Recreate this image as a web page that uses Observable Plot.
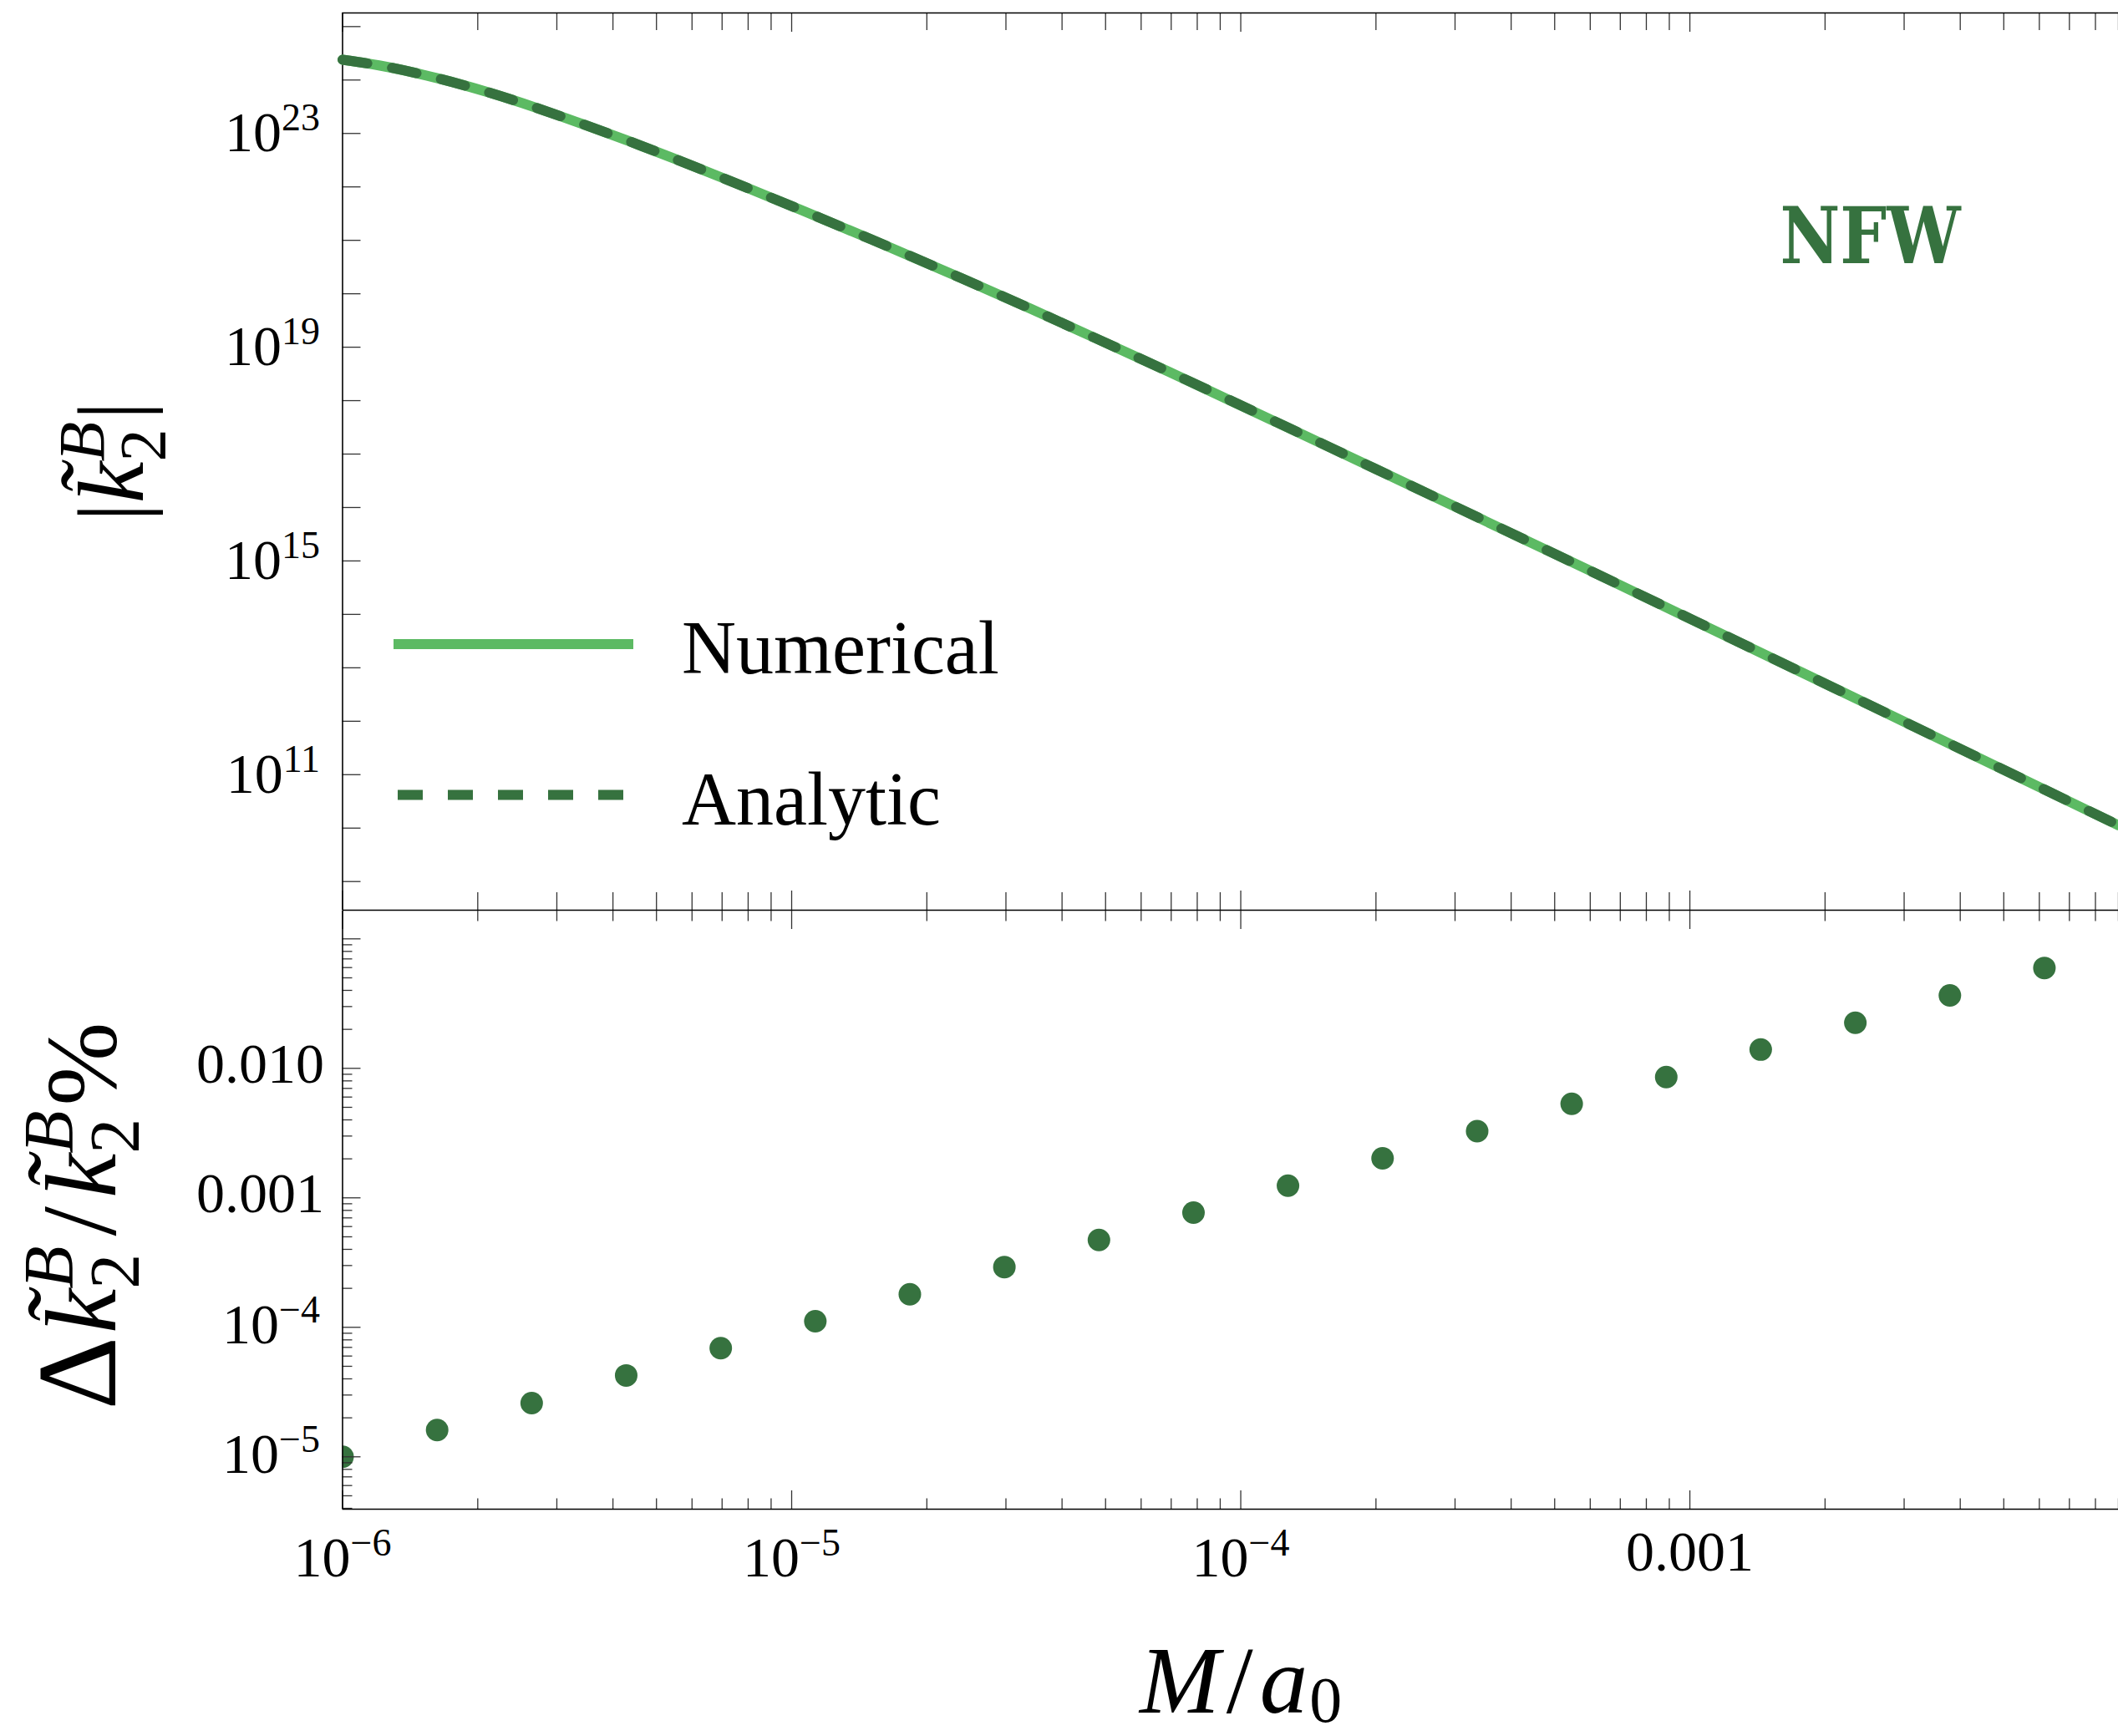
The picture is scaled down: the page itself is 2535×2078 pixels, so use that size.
<!DOCTYPE html>
<html>
<head>
<meta charset="utf-8">
<script src="https://cdn.jsdelivr.net/npm/d3@7"></script>
<script src="https://cdn.jsdelivr.net/npm/@observablehq/plot@0.6"></script>
<style>
  html, body { margin: 0; padding: 0; background: #ffffff; overflow: hidden; }
  #chart { position: relative; width: 2535px; height: 2078px; background: #ffffff; }
  #chart > svg { display: block; }
  #legend { position: absolute; left: 0; top: 0; pointer-events: none; }
</style>
</head>
<body>
<div id="chart"></div>
<script>
// ---------------- data ----------------
// upper panel: |k2^B| versus M/a0 (numerical and analytic coincide)
const curveMass  = [1.0e-6, 1.205e-6, 1.641e-6, 2.104e-6, 2.685e-6, 3.428e-6, 4.355e-6, 5.495e-6, 6.966e-6, 8.185e-6,
                    1.057e-5, 1.500e-5, 2.388e-5, 3.404e-5, 4.797e-5, 6.966e-5, 1.995e-4, 5.943e-4, 2.512e-3, 9.0e-3];
const kNumerical = [2.40e24, 1.88e24, 1.06e24, 5.93e23, 3.07e23, 1.49e23, 7.11e22, 3.34e22, 1.51e22, 8.73e21,
                    3.61e21, 1.05e21, 1.96e20, 5.24e19, 1.42e19, 3.37e18, 5.28e16, 6.79e14, 2.01e12, 1.13e10];
const kAnalytic  = [2.40e24, 1.88e24, 1.06e24, 5.93e23, 3.07e23, 1.49e23, 7.11e22, 3.34e22, 1.51e22, 8.73e21,
                    3.61e21, 1.05e21, 1.96e20, 5.24e19, 1.42e19, 3.37e18, 5.28e16, 6.79e14, 2.01e12, 1.13e10];
// lower panel: relative difference in percent
const dotMass  = [1.0e-6, 1.624e-6, 2.637e-6, 4.281e-6, 6.952e-6, 1.129e-5, 1.833e-5, 2.976e-5, 4.833e-5, 7.848e-5,
                  1.274e-4, 2.069e-4, 3.360e-4, 5.456e-4, 8.859e-4, 1.438e-3, 2.336e-3, 3.793e-3, 6.158e-3];
const relError = [1.0e-5, 1.61e-5, 2.60e-5, 4.25e-5, 6.90e-5, 1.114e-4, 1.80e-4, 2.92e-4, 4.73e-4, 7.69e-4,
                  1.242e-3, 2.02e-3, 3.27e-3, 5.32e-3, 8.57e-3, 1.396e-2, 2.25e-2, 3.66e-2, 5.96e-2];

// tick labels
const xLabelValues    = [1e-6, 1e-5, 1e-4, 1e-3];
const xLabelTexts     = ["10^\u22126", "10^\u22125", "10^\u22124", "0.001"];
const topYLabelValues = [1e11, 1e15, 1e19, 1e23];
const topYLabelTexts  = ["10^11", "10^15", "10^19", "10^23"];
const botYLabelValues = [1e-5, 1e-4, 1e-3, 1e-2];
const botYLabelTexts  = ["10^\u22125", "10^\u22124", "0.001", "0.010"];

const seriesNames = ["Numerical", "Analytic"];
const panelLabel = "NFW";

// ---------------- styling / layout ----------------
const LIGHT = "#5cba63", DARK = "#36723f";
const W = 2535, ML = 409.5;
const TOP_H = 1090, TOP_MT = 15, TOP_MB = 1;
const BOT_H = 988, BOT_MT = 0, BOT_MB = 272;
const frameW = W - ML;
const topFrameH = TOP_H - TOP_MT - TOP_MB;
const botFrameH = BOT_H - BOT_MT - BOT_MB;
const FONT = "'Liberation Serif', 'Times New Roman', serif";
const xDomain = [1e-6, 9.0e-3];
const topYDomain = [2.91e8, 1.80e25];
const botYDomain = [3.94e-6, 0.164];

// tick positions
const xMajor = xLabelValues;
const xMinor = [];
for (const d of xMajor) for (let k = 2; k <= 9; k++) xMinor.push(+(k * d).toPrecision(3));
const topYTicks = [];
for (let e = 9; e <= 25; e++) topYTicks.push(+("1e" + e));
const botYMajor = [1e-5, 1e-4, 1e-3, 1e-2, 1e-1];
const botYMinor = [];
for (let e = -6; e <= -2; e++) for (let k = 2; k <= 9; k++) {
  const v = +(k * Math.pow(10, e)).toPrecision(3);
  if (v >= botYDomain[0] && v <= botYDomain[1]) botYMinor.push(v);
}

const TICK = {stroke: "#333", strokeWidth: 1.3};
const AXIS = {stroke: "#000", strokeWidth: 1.6};
const leftTicks   = (vals, len, fh) => Plot.tickY(vals, {y: d => d, insetRight: frameW - len, ...TICK});
const topTicks    = (vals, len, fh) => Plot.tickX(vals, {x: d => d, insetBottom: fh - len, ...TICK});
const bottomTicks = (vals, len, fh) => Plot.tickX(vals, {x: d => d, insetTop: fh - len, ...TICK});

const curveRows = curveMass.map((m, i) => ({m, num: kNumerical[i], ana: kAnalytic[i]}));
const dotRows = dotMass.map((m, i) => ({m, e: relError[i]}));
const rows = (vals, texts) => vals.map((v, i) => ({v, t: texts[i]}));
const isPow = r => r.t.includes("^");

const baseStyle = {fontFamily: FONT, fontSize: "68px", background: "transparent", color: "#000", overflow: "visible"};

// ---------------- upper panel ----------------
const topPlot = Plot.plot({
  width: W, height: TOP_H,
  marginLeft: ML, marginRight: 0, marginTop: TOP_MT, marginBottom: TOP_MB,
  x: {type: "log", domain: xDomain, axis: null},
  y: {type: "log", domain: topYDomain, axis: null},
  style: baseStyle,
  marks: [
    leftTicks(topYTicks, 22, topFrameH),
    topTicks(xMinor, 21, topFrameH), topTicks(xMajor, 23, topFrameH),
    bottomTicks(xMinor, 21, topFrameH), bottomTicks(xMajor, 23, topFrameH),
    Plot.ruleX([xDomain[0]], AXIS),
    Plot.ruleY([topYDomain[0], topYDomain[1]], AXIS),
    Plot.line(curveRows, {x: "m", y: "num", stroke: LIGHT, strokeWidth: 12, curve: "monotone-x"}),
    Plot.line(curveRows, {x: "m", y: "ana", stroke: DARK, strokeWidth: 12, strokeDasharray: "30,30", curve: "monotone-x"}),
    Plot.text(rows(topYLabelValues, topYLabelTexts), {y: "v", text: "t", frameAnchor: "left", textAnchor: "end",
      lineAnchor: "bottom", dx: -27, dy: 21.7, fontSize: 68, fill: "#000"}),
    Plot.text(["YTOP"], {frameAnchor: "left", rotate: -90, textAnchor: "middle", lineAnchor: "bottom",
      dx: -239.5, dy: 0, fontSize: 112, fill: "#000"}),
    Plot.text([panelLabel], {frameAnchor: "top-right", textAnchor: "middle", lineAnchor: "bottom",
      dx: -297, dy: 299, fontSize: 94, fontWeight: "bold", fontFamily: "'DejaVu Serif', serif", fill: DARK})
  ]
});

// ---------------- lower panel ----------------
const xr = rows(xLabelValues, xLabelTexts);
const byr = rows(botYLabelValues, botYLabelTexts);
const botPlot = Plot.plot({
  width: W, height: BOT_H,
  marginLeft: ML, marginRight: 0, marginTop: BOT_MT, marginBottom: BOT_MB,
  x: {type: "log", domain: xDomain, axis: null},
  y: {type: "log", domain: botYDomain, axis: null},
  style: baseStyle,
  marks: [
    Plot.dot(dotRows, {x: "m", y: "e", r: 13.5, fill: DARK, stroke: "none", clip: true}),
    leftTicks(botYMinor, 12, botFrameH), leftTicks(botYMajor, 22, botFrameH),
    topTicks(xMinor, 12.5, botFrameH), topTicks(xMajor, 22, botFrameH),
    bottomTicks(xMinor, 12.5, botFrameH), bottomTicks(xMajor, 22, botFrameH),
    Plot.ruleX([xDomain[0]], AXIS),
    Plot.ruleY([botYDomain[0]], AXIS),
    Plot.text(byr.filter(isPow), {y: "v", text: "t", frameAnchor: "left", textAnchor: "end",
      lineAnchor: "bottom", dx: -27, dy: 19.5, fontSize: 68, fill: "#000"}),
    Plot.text(byr.filter(r => !isPow(r)), {y: "v", text: "t", frameAnchor: "left", textAnchor: "end",
      lineAnchor: "bottom", dx: -22, dy: 17.2, fontSize: 68, fill: "#000"}),
    Plot.text(xr.filter(isPow), {x: "v", text: "t", frameAnchor: "bottom", textAnchor: "middle",
      lineAnchor: "bottom", dy: 80, fontSize: 68, fill: "#000"}),
    Plot.text(xr.filter(r => !isPow(r)), {x: "v", text: "t", frameAnchor: "bottom", textAnchor: "middle",
      lineAnchor: "bottom", dy: 73.5, fontSize: 68, fill: "#000"}),
    Plot.text(["XTITLE"], {x: () => 1e-4, frameAnchor: "bottom", textAnchor: "middle", lineAnchor: "bottom",
      dy: 243, fontSize: 115, fill: "#000"}),
    Plot.text(["YBOT"], {frameAnchor: "left", rotate: -90, textAnchor: "middle", lineAnchor: "bottom",
      dx: -272, dy: 7, fontSize: 120, fill: "#000"})
  ]
});

// ---------------- rich text (superscripts, italics) ----------------
const SVGNS = "http://www.w3.org/2000/svg";
function setRich(el, spans) {
  el.textContent = "";
  for (const s of spans) {
    const ts = document.createElementNS(SVGNS, "tspan");
    ts.textContent = s.t;
    if (s.dx) ts.setAttribute("dx", s.dx);
    if (s.dy) ts.setAttribute("dy", s.dy);
    if (s.size) ts.setAttribute("font-size", s.size);
    if (s.italic) ts.setAttribute("font-style", "italic");
    el.appendChild(ts);
  }
}
const richMap = {
  YTOP: [{t: "|"}, {t: "k\u0303", italic: true}, {t: "2", size: 78, dy: 26},
         {t: "B", italic: true, size: 78, dx: -39, dy: -73}, {t: "|", dy: 47, dx: 2}],
  YBOT: [{t: "\u0394", size: 136}, {t: "k\u0303", italic: true, dx: 4}, {t: "2", size: 84, dy: 28},
         {t: "B", italic: true, size: 84, dx: -42, dy: -79}, {t: "/", dy: 51, dx: 12, size: 128},
         {t: "k\u0303", italic: true, dx: 10}, {t: "2", size: 84, dy: 28},
         {t: "B", italic: true, size: 84, dx: -42, dy: -79}, {t: "%", dy: 51, dx: 6}],
  XTITLE: [{t: "M", italic: true}, {t: "/", dx: 8}, {t: "a", italic: true, dx: 8}, {t: "0", size: 78, dy: 11, dx: 2}]
};
function richify(svg) {
  svg.querySelectorAll("text").forEach(el => {
    const s = el.textContent;
    if (richMap[s]) setRich(el, richMap[s]);
    else if (s.includes("^")) {
      const [b, e] = s.split("^");
      setRich(el, [{t: b}, {t: e, size: 46, dy: -25}]);
    } else if (s === panelLabel) {
      el.setAttribute("textLength", 216);
      el.setAttribute("lengthAdjust", "spacingAndGlyphs");
    }
  });
}
richify(topPlot); richify(botPlot);

const chart = document.getElementById("chart");
chart.appendChild(topPlot);
chart.appendChild(botPlot);

// ---------------- legend (inside upper panel) ----------------
const legendLayout = [
  {x1: 471, x2: 758, y: 771, textY: 806, color: LIGHT, dash: null},
  {x1: 476, x2: 746, y: 951.5, textY: 986.7, color: DARK, dash: "30,30"}
];
const leg = d3.select(chart).append("svg").attr("id", "legend").attr("width", 1300).attr("height", 1080);
legendLayout.forEach((L, i) => {
  leg.append("line").attr("x1", L.x1).attr("x2", L.x2).attr("y1", L.y).attr("y2", L.y)
    .attr("stroke", L.color).attr("stroke-width", 12).attr("stroke-dasharray", L.dash);
  leg.append("text").attr("x", 816).attr("y", L.textY).attr("font-family", FONT).attr("font-size", 90)
    .attr("fill", "#000").text(seriesNames[i]);
});
</script>
</body>
</html>
